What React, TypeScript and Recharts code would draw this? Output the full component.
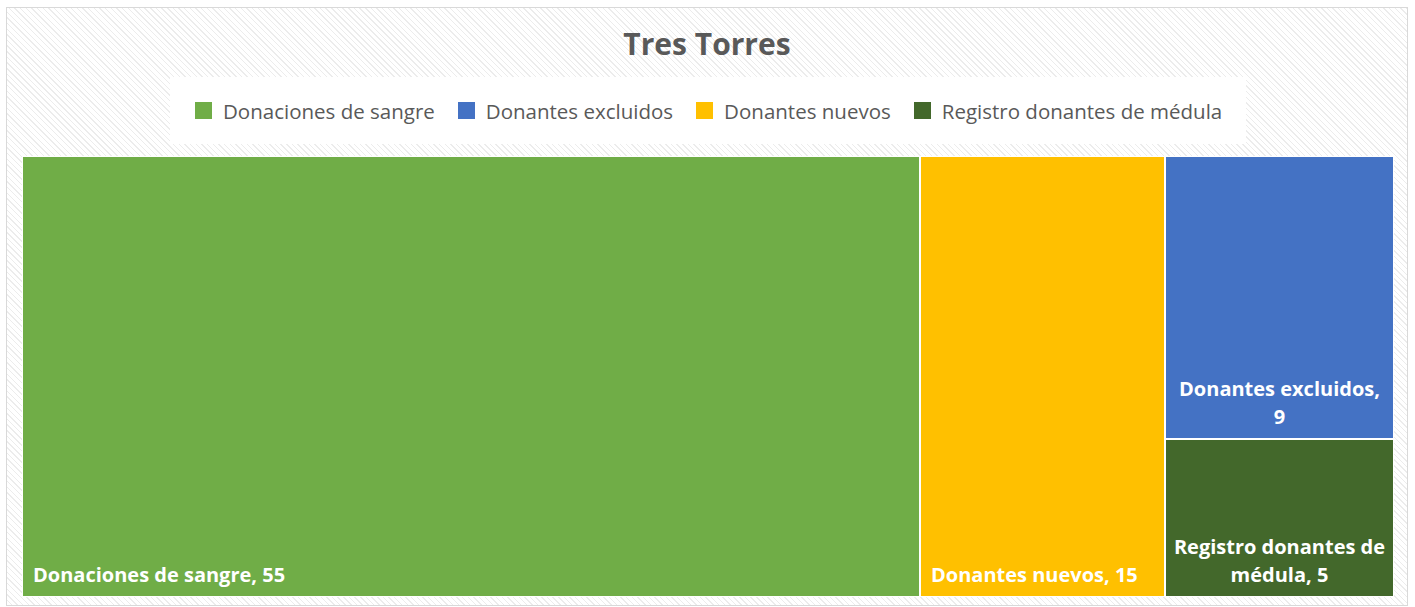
import React from 'react';
import { Treemap } from 'recharts';

const names = ['Donaciones de sangre', 'Donantes nuevos', 'Donantes excluidos', 'Registro donantes de médula'];
const values = [55, 15, 9, 5];
const colors = ['#70AD47', '#FFC000', '#4472C4', '#43682B'];

// legend keeps Excel's order
const legendNames = ['Donaciones de sangre', 'Donantes excluidos', 'Donantes nuevos', 'Registro donantes de médula'];
const legendColors = ['#70AD47', '#4472C4', '#FFC000', '#43682B'];

const data = names.map((name, i) => ({ name, value: values[i], color: colors[i] }));

const FONT = '"Open Sans", sans-serif';
const CHAR_W = 10.5;

// simple word wrap with an approximate char width
const wrap = (text: string, maxW: number) => {
  const words = text.split(' ');
  const lines: string[] = [];
  let cur = '';
  words.forEach((w) => {
    const next = cur ? cur + ' ' + w : w;
    if (next.length * CHAR_W > maxW && cur) {
      lines.push(cur);
      cur = w;
    } else {
      cur = next;
    }
  });
  if (cur) lines.push(cur);
  return lines;
};

const CellContent = (props: any) => {
  const { x, y, width, height, depth, name, value, color } = props;
  if (depth !== 1) return null;
  const label = `${name}, ${value}`;
  const lines = wrap(label, width - 14);
  const single = lines.length === 1;
  const lineH = 28;
  const bottom = y + height - 15;
  return (
    <g>
      <rect x={x} y={y} width={width} height={height} fill={color} stroke="#fff" strokeWidth={2} />
      {lines.map((ln, i) => (
        <text
          key={i}
          x={single ? x + 11 : x + width / 2}
          y={bottom - (lines.length - 1 - i) * lineH}
          textAnchor={single ? 'start' : 'middle'}
          fill="#fff"
          fontFamily={FONT}
          fontWeight={700}
          fontSize={20}
        >
          {ln}
        </text>
      ))}
    </g>
  );
};

export default function App() {
  return (
    <div
      style={{
        position: 'absolute',
        left: 6,
        top: 7,
        width: 1400,
        height: 597,
        border: '1px solid #d9d9d9',
        background: 'repeating-linear-gradient(45deg, #ffffff 0px, #ffffff 3px, #ececec 3px, #ececec 4px)',
        fontFamily: FONT,
      }}
    >
      <div
        style={{
          position: 'absolute',
          left: 0,
          right: 0,
          top: 15,
          textAlign: 'center',
          fontSize: 30,
          fontWeight: 700,
          color: '#595959',
        }}
      >
        Tres Torres
      </div>
      <div
        style={{
          position: 'absolute',
          left: 163,
          top: 69,
          width: 1076,
          height: 67,
          background: '#fff',
          display: 'flex',
          alignItems: 'center',
          paddingLeft: 25,
          boxSizing: 'border-box',
        }}
      >
        {legendNames.map((n, i) => (
          <div key={n} style={{ display: 'flex', alignItems: 'center', marginRight: 23 }}>
            <div style={{ width: 17, height: 17, background: legendColors[i], marginRight: 11 }} />
            <span style={{ fontSize: 20.5, color: '#595959' }}>{n}</span>
          </div>
        ))}
      </div>
      <div style={{ position: 'absolute', left: 15, top: 148 }}>
        <Treemap
          width={1372}
          height={441}
          data={data}
          dataKey="value"
          nameKey="name"
          aspectRatio={0.5}
          isAnimationActive={false}
          content={<CellContent />}
        />
      </div>
    </div>
  );
}
